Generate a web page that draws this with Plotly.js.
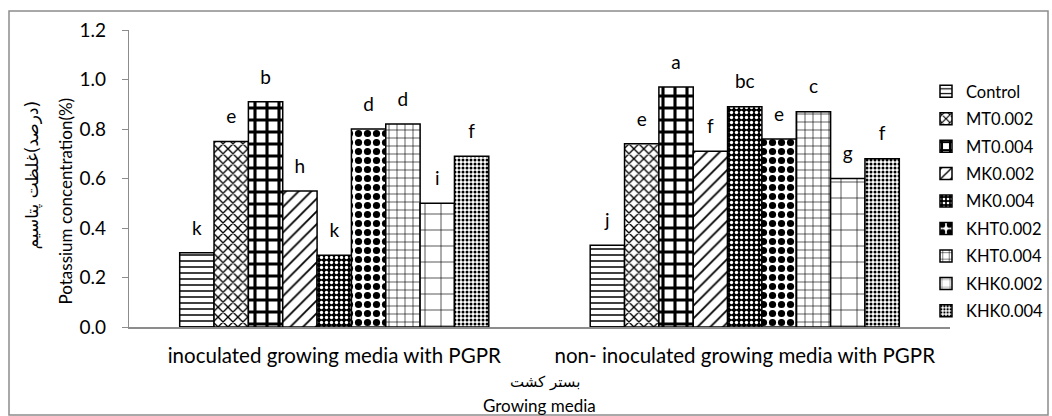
<!DOCTYPE html>
<html>
<head>
<meta charset="utf-8">
<script src="https://cdn.plot.ly/plotly-3.0.1.min.js"></script>
<style>
html,body{margin:0;padding:0;background:#ffffff;}
#chart{width:1052px;height:416px;}
</style>
</head>
<body>
<div id="chart"></div>
<script>
// ---- data ----
const categories = ['inoculated growing media with PGPR', 'non- inoculated growing media with PGPR'];
const seriesNames = ['Control', 'MT0.002', 'MT0.004', 'MK0.002', 'MK0.004', 'KHT0.002', 'KHT0.004', 'KHK0.002', 'KHK0.004'];

const controlValues = [0.30, 0.33];
const mt0002Values  = [0.75, 0.74];
const mt0004Values  = [0.91, 0.97];
const mk0002Values  = [0.55, 0.71];
const mk0004Values  = [0.29, 0.89];
const kht0002Values = [0.80, 0.76];
const kht0004Values = [0.82, 0.87];
const khk0002Values = [0.50, 0.60];
const khk0004Values = [0.69, 0.68];

const controlLetters = ['k', 'j'];
const mt0002Letters  = ['e', 'e'];
const mt0004Letters  = ['b', 'a'];
const mk0002Letters  = ['h', 'f'];
const mk0004Letters  = ['k', 'bc'];
const kht0002Letters = ['d', 'e'];
const kht0004Letters = ['d', 'c'];
const khk0002Letters = ['i', 'g'];
const khk0004Letters = ['f', 'f'];

const yTickValues = [0, 0.2, 0.4, 0.6, 0.8, 1.0, 1.2];
const yTickLabels = ['0.0', '0.2', '0.4', '0.6', '0.8', '1.0', '1.2'];

const yTitleFa = '\u200F(درصد)غلظت پتاسیم';
const yTitleEn = 'Potassium concentration(%)';
const xTitleFa = 'بستر کشت';
const xTitleEn = 'Growing media';

// ---- styling ----
const seriesValues = [controlValues, mt0002Values, mt0004Values, mk0002Values, mk0004Values,
                      kht0002Values, kht0004Values, khk0002Values, khk0004Values];
const seriesLetters = [controlLetters, mt0002Letters, mt0004Letters, mk0002Letters, mk0004Letters,
                       kht0002Letters, kht0004Letters, khk0002Letters, khk0004Letters];
const patterns = [
  {shape: '-', size: 6,  solidity: 0.25, fgcolor: '#000000', bgcolor: '#ffffff'},
  {shape: 'x', size: 7,  solidity: 0.35, fgcolor: '#000000', bgcolor: '#ffffff'},
  {shape: '+', size: 12, solidity: 0.45, fgcolor: '#000000', bgcolor: '#ffffff'},
  {shape: '/', size: 9,  solidity: 0.2,  fgcolor: '#000000', bgcolor: '#ffffff'},
  {shape: '.', size: 5,  solidity: 0.35, fgcolor: '#ffffff', bgcolor: '#000000'},
  {shape: '.', size: 9,  solidity: 0.5,  fgcolor: '#000000', bgcolor: '#ffffff'},
  {shape: '+', size: 8,  solidity: 0.15, fgcolor: '#000000', bgcolor: '#ffffff'},
  {shape: '+', size: 16, solidity: 0.08, fgcolor: '#000000', bgcolor: '#ffffff'},
  {shape: '.', size: 4,  solidity: 0.45, fgcolor: '#000000', bgcolor: '#ffffff'}
];

const FONT = 'Lato, "DejaVu Sans", sans-serif';
const GAP = 0.247;

const traces = [];
seriesNames.forEach(function (name, i) {
  traces.push({
    type: 'bar',
    name: name,
    x: categories,
    y: seriesValues[i],
    offsetgroup: 'g' + i,
    legendgroup: 'g' + i,
    marker: {
      color: '#ffffff',
      line: {color: '#000000', width: 1.5},
      pattern: Object.assign({fillmode: 'replace'}, patterns[i])
    },
    hovertemplate: name + ': %{y}<extra></extra>'
  });
});
seriesNames.forEach(function (name, i) {
  traces.push({
    type: 'scatter',
    mode: 'markers+text',
    x: categories,
    y: seriesValues[i],
    text: seriesLetters[i],
    textposition: 'top center',
    textfont: {family: FONT, size: 19, color: '#000000'},
    marker: {size: 20, opacity: 0},
    offsetgroup: 'g' + i,
    legendgroup: 'g' + i,
    showlegend: false,
    hoverinfo: 'skip',
    cliponaxis: false
  });
});

// margins (px) of the plot area
const M = {l: 129, r: 102, t: 30, b: 89, autoexpand: false};
const PW = 1052 - M.l - M.r;
const PH = 416 - M.t - M.b;
function px2x(p) { return (p - M.l) / PW; }
function px2y(p) { return (416 - M.b - p) / PH; }

const layout = {
  width: 1052,
  height: 416,
  margin: M,
  paper_bgcolor: '#ffffff',
  plot_bgcolor: '#ffffff',
  font: {family: FONT, color: '#000000', size: 16},
  barmode: 'group',
  bargap: GAP,
  bargroupgap: 0,
  scattermode: 'group',
  scattergap: GAP,
  showlegend: true,
  legend: {
    x: px2x(926), xanchor: 'left',
    y: px2y(74), yanchor: 'top',
    font: {family: FONT, size: 16.5, color: '#000000'},
    tracegroupgap: 3,
    bgcolor: 'rgba(0,0,0,0)'
  },
  xaxis: {
    type: 'category',
    showline: true,
    linecolor: '#8c8c8c',
    linewidth: 2,
    ticks: '',
    showgrid: false,
    zeroline: false,
    tickfont: {family: FONT, size: 20.5, color: '#000000'},
    ticklabelstandoff: 9,
    fixedrange: true
  },
  yaxis: {
    range: [0, 1.2],
    showline: true,
    linecolor: '#8c8c8c',
    linewidth: 1.3,
    ticks: 'outside',
    ticklen: 6,
    tickwidth: 1.3,
    tickcolor: '#8c8c8c',
    tickvals: yTickValues,
    ticktext: yTickLabels,
    tickfont: {family: FONT, size: 19, color: '#000000'},
    ticklabelstandoff: 12,
    showgrid: false,
    zeroline: false,
    fixedrange: true
  },
  annotations: [
    {text: yTitleFa, xref: 'paper', yref: 'paper', x: px2x(32), y: px2y(99),
     xanchor: 'center', yanchor: 'top', textangle: -90, showarrow: false,
     font: {family: '"DejaVu Sans", sans-serif', size: 17, color: '#000000'}},
    {text: yTitleEn, xref: 'paper', yref: 'paper', x: px2x(65), y: px2y(96),
     xanchor: 'center', yanchor: 'top', textangle: -90, showarrow: false,
     font: {family: FONT, size: 17, color: '#000000'}},
    {text: xTitleFa, xref: 'paper', yref: 'paper', x: px2x(545), y: px2y(382),
     xanchor: 'center', yanchor: 'middle', showarrow: false,
     font: {family: '"DejaVu Sans", sans-serif', size: 15, color: '#000000'}},
    {text: xTitleEn, xref: 'paper', yref: 'paper', x: px2x(539), y: px2y(405),
     xanchor: 'center', yanchor: 'middle', showarrow: false,
     font: {family: FONT, size: 17, color: '#000000'}}
  ],
  shapes: [
    {type: 'rect', xref: 'paper', yref: 'paper', layer: 'below',
     x0: px2x(9), x1: px2x(1048), y0: px2y(415), y1: px2y(11),
     line: {color: '#8c8c8c', width: 1.5}, fillcolor: 'rgba(0,0,0,0)'}
  ]
};

Plotly.newPlot('chart', traces, layout, {displayModeBar: false});
</script>
</body>
</html>
